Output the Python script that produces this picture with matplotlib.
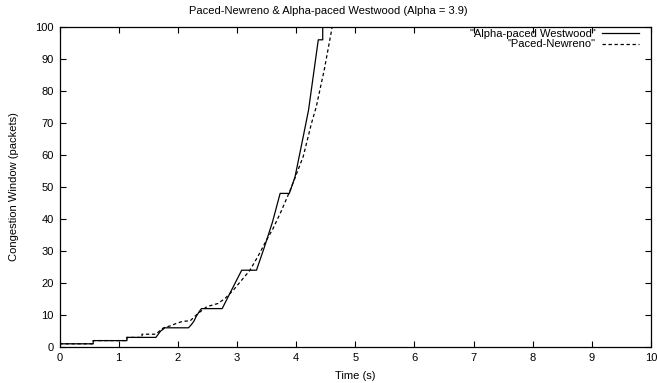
import matplotlib
matplotlib.use('Agg')
import matplotlib.pyplot as plt

# cwnd traces (time in s, window in packets)
westwood_t = [0, 0.57, 0.57, 1.14, 1.14, 1.63, 1.67, 1.71, 1.75, 1.78, 2.18, 2.23, 2.27, 2.31, 2.36, 2.40,
              2.75, 2.86, 2.97, 3.08, 3.33, 3.46, 3.60, 3.73, 3.885, 3.98, 4.12, 4.21, 4.375, 4.45, 4.45]
westwood_w = [1, 1, 2, 2, 3, 3, 4, 5, 5.5, 6, 6, 7, 8, 9.5, 11, 12,
              12, 16, 20, 24, 24, 31, 39, 48, 48, 53, 65.7, 74, 96, 96, 106]

newreno_t = [0, 0.57, 0.57, 1.14, 1.14, 1.395, 1.395, 1.63, 1.69, 1.76, 1.87, 1.98, 2.08, 2.21, 2.33,
             2.49, 2.68, 2.80, 2.94, 3.08, 3.22, 3.36, 3.50, 3.61, 3.75, 3.90, 4.12, 4.26, 4.34, 4.48, 4.61, 4.68]
newreno_w = [1, 1, 2, 2, 3, 3, 4, 4, 5, 6, 6.6, 7.4, 8, 8.2, 10.3,
             12.6, 13.6, 15.2, 17.8, 20.9, 24, 28.5, 33.4, 37, 42.5, 49, 59.5, 69.9, 75, 87, 100, 107]

plt.rcParams['font.family'] = 'Liberation Sans'
plt.rcParams['font.size'] = 8

fig = plt.figure(figsize=(6.57, 3.83), dpi=100)
ax = fig.add_axes([59.5 / 657, 36 / 383, 591.5 / 657, 320 / 383])

ax.plot(westwood_t, westwood_w, color='black', lw=0.9, label='"Alpha-paced Westwood"')
ax.plot(newreno_t, newreno_w, color='black', lw=0.9, linestyle=(0, (2.7, 2.1)), label='"Paced-Newreno"')

ax.set_xlim(0, 10)
ax.set_ylim(0, 100)
ax.set_xticks(range(0, 11))
ax.set_yticks(range(0, 101, 10))
ax.tick_params(direction='in', top=True, right=True, length=4, width=0.8, pad=4, labelsize=8)
for s in ax.spines.values():
    s.set_linewidth(0.9)

ax.set_xlabel('Time (s)', labelpad=6)
ax.set_ylabel('Congestion Window (packets)', labelpad=12)
fig.suptitle('Paced-Newreno & Alpha-paced Westwood (Alpha = 3.9)', y=0.985, fontsize=8)

leg = ax.legend(loc='upper right', bbox_to_anchor=(0.991, 1.014), frameon=False, markerfirst=False,
                handlelength=3.3, handletextpad=0.6, labelspacing=0.02, borderaxespad=0.2, fontsize=8)
# right-align the legend entries like gnuplot does
for col in leg._legend_box._children[-1]._children:
    col.align = 'right'

fig.savefig('out.png', dpi=100)
